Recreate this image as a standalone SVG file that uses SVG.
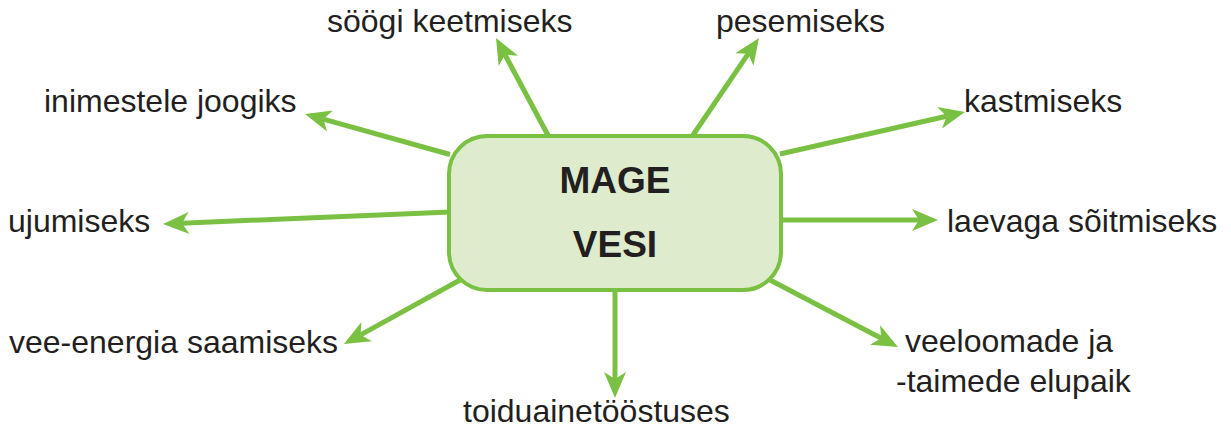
<svg xmlns="http://www.w3.org/2000/svg" width="1231" height="436" viewBox="0 0 1231 436">
<style>
.lbl{font-family:"Liberation Sans",Arial,sans-serif;font-size:32px;fill:#231f20}
.ttl{font-family:"Liberation Sans",Arial,sans-serif;font-size:37px;font-weight:bold;fill:#231f20;text-anchor:middle}
.conn{stroke:#7ac143;stroke-width:5;fill:none;marker-end:url(#ah)}
</style>
<defs>
<marker id="ah" markerUnits="userSpaceOnUse" markerWidth="40" markerHeight="40" viewBox="-10 -15 40 30" refX="0" refY="0" orient="auto" overflow="visible">
<path d="M19,0 L-7,-11 L0,0 L-7,11 Z" fill="#7ac143"/>
</marker>
</defs>
<rect width="1231" height="436" fill="#ffffff"/>
<g id="connectors">
<line class="conn" x1="550" y1="139" x2="505" y2="54.7"/>
<line class="conn" x1="691" y1="138" x2="748.3" y2="53.7"/>
<line class="conn" x1="450" y1="154.5" x2="323.3" y2="119.1"/>
<line class="conn" x1="780" y1="154" x2="946.5" y2="116.2"/>
<line class="conn" x1="450" y1="212" x2="182" y2="223.2"/>
<line class="conn" x1="780" y1="220" x2="919" y2="220"/>
<line class="conn" x1="460" y1="280" x2="360.6" y2="334.9"/>
<line class="conn" x1="615" y1="288" x2="615" y2="379"/>
<line class="conn" x1="770" y1="280" x2="881.2" y2="338.2"/>
</g>
<g id="center">
<rect x="449" y="136" width="332" height="154" rx="38" ry="38" fill="#deebcd" stroke="#7ac143" stroke-width="4"/>
<text class="ttl" x="615" y="193">MAGE</text>
<text class="ttl" x="615" y="257">VESI</text>
</g>
<g id="n-sook"><text class="lbl" x="327" y="32">söögi keetmiseks</text></g>
<g id="n-pesemiseks"><text class="lbl" x="716" y="32">pesemiseks</text></g>
<g id="n-joogiks"><text class="lbl" x="44" y="112">inimestele joogiks</text></g>
<g id="n-kastmiseks"><text class="lbl" x="964" y="112">kastmiseks</text></g>
<g id="n-ujumiseks"><text class="lbl" x="8" y="232">ujumiseks</text></g>
<g id="n-laevaga"><text class="lbl" x="947" y="232">laevaga sõitmiseks</text></g>
<g id="n-energia"><text class="lbl" x="9" y="353">vee-energia saamiseks</text></g>
<g id="n-toiduaine"><text class="lbl" x="463" y="422">toiduainetööstuses</text></g>
<g id="n-veeloomade"><text class="lbl" x="905" y="352">veeloomade ja</text><text class="lbl" x="896" y="392">-taimede elupaik</text></g>
</svg>
